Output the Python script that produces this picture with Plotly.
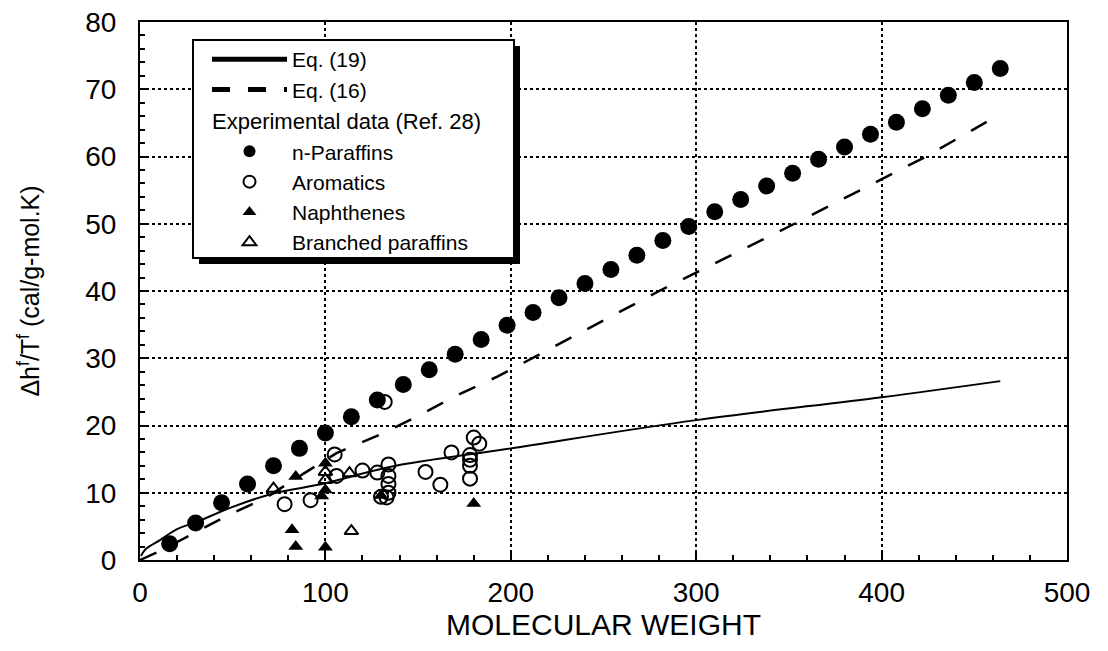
import plotly.graph_objects as go

# ---------------- data ----------------
# n-Paraffins (filled circles)
npar_mw = [16, 30, 44, 58, 72, 86, 100, 114, 128, 142, 156, 170, 184, 198, 212, 226,
           240, 254, 268, 282, 296, 310, 324, 338, 352, 366, 380, 394, 408, 422, 436, 450, 464]
npar_y = [2.4, 5.5, 8.5, 11.3, 14.0, 16.6, 18.9, 21.3, 23.8, 26.1, 28.3, 30.6, 32.8, 34.9, 36.8, 39.0,
          41.1, 43.2, 45.3, 47.5, 49.6, 51.8, 53.6, 55.6, 57.5, 59.6, 61.4, 63.3, 65.1, 67.1, 69.1, 71.0, 73.1]

# Aromatics (open circles)
arom_mw = [78, 92, 105, 106, 120, 128, 132, 134, 134, 134, 134, 133, 130, 154, 162, 168,
           178, 178, 178, 178, 180, 183]
arom_y = [8.3, 8.9, 15.7, 12.5, 13.3, 13.0, 23.5, 14.2, 12.5, 11.3, 10.0, 9.3, 9.4, 13.1, 11.2, 16.0,
          15.6, 14.9, 14.0, 12.1, 18.2, 17.3]

# Naphthenes (filled triangles)
naph_mw = [84, 82, 84, 100, 100, 100, 98, 130, 180]
naph_y = [12.4, 4.5, 2.0, 1.9, 14.4, 10.4, 9.5, 9.6, 8.4]

# Branched paraffins (open triangles)
bran_mw = [72, 100, 100, 113, 114]
bran_y = [10.6, 13.1, 11.9, 12.9, 4.3]

# Eq. (19) curve (solid)
eq19_mw = [0.5, 3, 11, 20, 30, 50, 72, 100, 134, 200, 300, 400, 464]
eq19_y = [0.6, 1.6, 3.0, 4.6, 5.6, 7.9, 9.9, 11.4, 13.8, 16.6, 20.8, 24.2, 26.6]

# Eq. (16) curve (dashed)
eq16_mw = [0, 12, 47, 67, 88, 106, 129, 150, 171, 193, 280, 353, 424, 464]
eq16_y = [0, 1.5, 6.6, 9.1, 12.8, 15.9, 18.6, 21.4, 24.5, 27.3, 40.0, 50.0, 60.0, 66.3]

x_ticks = [0, 100, 200, 300, 400, 500]
y_ticks = [0, 10, 20, 30, 40, 50, 60, 70, 80]

FONT = "Liberation Sans, Arial, Helvetica, sans-serif"

fig = go.Figure()

fig.add_trace(go.Scatter(x=eq19_mw, y=eq19_y, mode="lines", name="Eq. (19)",
                         line=dict(color="black", width=2, shape="spline"),
                         legendgroup="eq"))
fig.add_trace(go.Scatter(x=eq16_mw, y=eq16_y, mode="lines", name="Eq. (16)",
                         line=dict(color="black", width=2.5, dash="18px,18px"),
                         legendgroup="eq"))

fig.add_trace(go.Scatter(x=npar_mw, y=npar_y, mode="markers", name="n-Paraffins",
                         marker=dict(symbol="circle", size=17, color="black"),
                         legendgroup="exp",
                         legendgrouptitle=dict(text="Experimental data (Ref. 28)",
                                               font=dict(size=22, family=FONT, color="black"))))
fig.add_trace(go.Scatter(x=arom_mw, y=arom_y, mode="markers", name="Aromatics",
                         marker=dict(symbol="circle-open", size=14, color="black",
                                     line=dict(width=2, color="black")),
                         legendgroup="exp"))
fig.add_trace(go.Scatter(x=naph_mw, y=naph_y, mode="markers", name="Naphthenes",
                         marker=dict(symbol="triangle-up", size=13, color="black"),
                         legendgroup="exp"))
fig.add_trace(go.Scatter(x=bran_mw, y=bran_y, mode="markers", name="Branched paraffins",
                         marker=dict(symbol="triangle-up-open", size=12, color="black",
                                     line=dict(width=2, color="black")),
                         legendgroup="exp"))

# page has an 8px body margin: plot area on screen x 140..1067, y 22..560
OFF = 8
W, H = 1092, 635
L, T = 140 - OFF, 22 - OFF
R = W - (1067 - OFF)
B = H - (560 - OFF)
pw, ph = W - L - R, H - T - B

def px_x(p):
    return (p - OFF - L) / pw

def px_y(p):
    return (H - B - (p - OFF)) / ph

box_l, box_r, box_t, box_b = 193, 514, 40, 258
shapes = [
    # shadow
    dict(type="rect", xref="paper", yref="paper", layer="above",
         x0=px_x(box_l + 6), x1=px_x(box_r + 6), y0=px_y(box_b + 6), y1=px_y(box_t + 6),
         fillcolor="black", line=dict(width=0)),
    # box
    dict(type="rect", xref="paper", yref="paper", layer="above",
         x0=px_x(box_l), x1=px_x(box_r), y0=px_y(box_b), y1=px_y(box_t),
         fillcolor="white", line=dict(width=2, color="black")),
]

axis_common = dict(
    showline=True, linecolor="black", linewidth=2, mirror=True,
    showgrid=True, gridcolor="black", gridwidth=1.5, griddash="dot",
    zeroline=False, ticks="inside", ticklen=8, tickwidth=1.5, tickcolor="black",
    tickfont=dict(size=28, family=FONT, color="black"),
    ticklabeloverflow="allow",
    automargin=False,
)

fig.update_layout(
    width=W, height=H,
    margin=dict(l=L, r=R, t=T, b=B, autoexpand=False),
    paper_bgcolor="white", plot_bgcolor="white",
    font=dict(family=FONT, color="black"),
    shapes=shapes,
    showlegend=True,
    legend=dict(
        x=px_x(box_l + 14), y=px_y(box_t - 1), xanchor="left", yanchor="top",
        bgcolor="rgba(0,0,0,0)", borderwidth=0,
        font=dict(size=21, family=FONT, color="black"),
        itemwidth=75, tracegroupgap=0, itemsizing="constant",
        traceorder="grouped",
    ),
    xaxis=dict(
        range=[0, 500], tickvals=x_ticks, ticktext=[str(v) for v in x_ticks],
        minor=dict(dtick=20, ticks="inside", ticklen=5, tickcolor="black", showgrid=False),
        title=dict(text="MOLECULAR WEIGHT", font=dict(size=30, family=FONT, color="black"),
                   standoff=6),
        ticklabelstandoff=6,
        **axis_common,
    ),
    yaxis=dict(
        range=[0, 80], tickvals=y_ticks, ticktext=[str(v) for v in y_ticks],
        minor=dict(dtick=2, ticks="inside", ticklen=5, tickcolor="black", showgrid=False),
        title=dict(text="Δh<sup>f</sup>/T<sup>f</sup> (cal/g-mol.K)",
                   font=dict(size=25, family=FONT, color="black"), standoff=38),
        ticklabelstandoff=16,
        **axis_common,
    ),
)

fig.write_html("out.html")
